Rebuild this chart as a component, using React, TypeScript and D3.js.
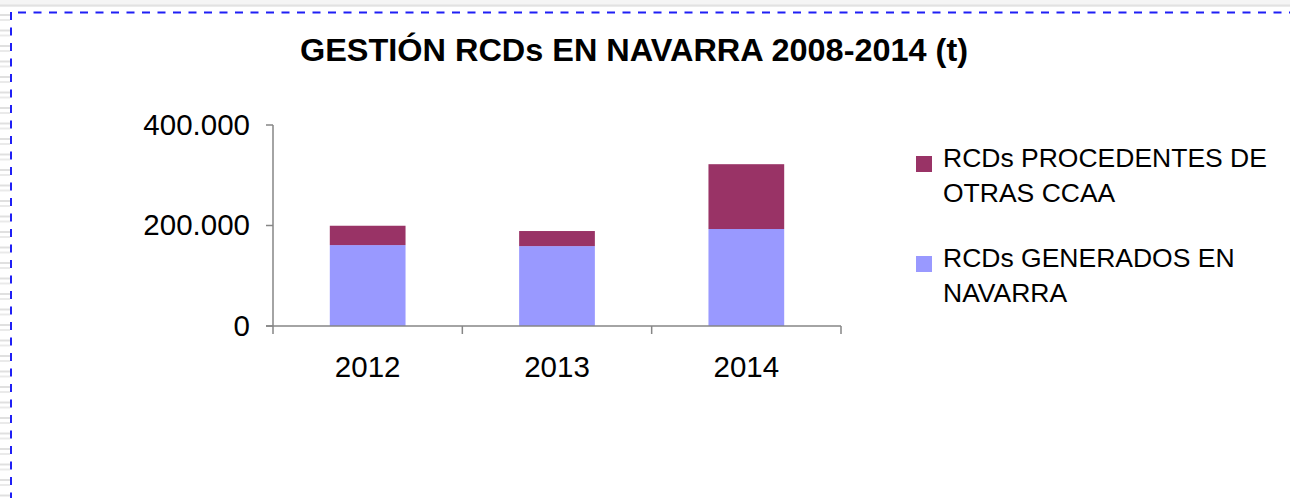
import React from "react";
import * as d3 from "d3";

// chart data (t)
const years = ["2012", "2013", "2014"];
const generadosNavarra = [161000, 159000, 193000];
const otrasCCAA = [38500, 30000, 129000];
const yTicks = [0, 200000, 400000];
const seriesNames = ["RCDs GENERADOS EN NAVARRA", "RCDs PROCEDENTES DE OTRAS CCAA"];
const legendLines = [
  ["RCDs PROCEDENTES DE", "OTRAS CCAA"],
  ["RCDs GENERADOS EN", "NAVARRA"],
];
const colors = ["#9999ff", "#993366"];
const title = "GESTIÓN RCDs EN NAVARRA 2008-2014 (t)";

const W = 1290;
const H = 498;
const plot = { left: 273, right: 841, top: 125, bottom: 326 };
const font = "'Liberation Sans', Arial, sans-serif";
const axisColor = "#868686";

const esFormat = d3.formatLocale({
  decimal: ",",
  thousands: ".",
  grouping: [3],
  currency: ["", " €"],
}).format(",d");

export default function App() {
  const x = d3.scaleBand<string>()
    .domain(years)
    .range([plot.left, plot.right])
    .paddingInner(0.6)
    .paddingOuter(0.3);
  const y = d3.scaleLinear().domain([0, 400000]).range([plot.bottom, plot.top]);

  const rows = years.map((yr, i) => ({ year: yr, gen: generadosNavarra[i], otras: otrasCCAA[i] }));
  const stacked = d3.stack<any>().keys(["gen", "otras"])(rows);

  // category boundaries for the x ticks
  const step = x.step();
  const boundaries = d3.range(years.length + 1).map(i => plot.left + i * step);

  // ruler marks on left edge + dashed frame
  const rulerYs = d3.range(14, H, 15.5);

  return (
    <svg width={W} height={H} style={{ position: "fixed", left: 0, top: 0, background: "#fff" }}>
      <rect x={0} y={0} width={W} height={7} fill="#f5f5f5" />
      <line x1={0} x2={W} y1={5.5} y2={5.5} stroke="#e2e2e2" strokeWidth={2} />
      {rulerYs.map((ry, i) => (
        <g key={i}>
          <line x1={0} x2={10} y1={ry + 1} y2={ry + 1} stroke="#e0e0e0" strokeWidth={2} />
          <line x1={0} x2={10} y1={ry + 6} y2={ry + 6} stroke="#eaeaea" strokeWidth={2} />
        </g>
      ))}
      <line x1={18} x2={W} y1={12.5} y2={12.5} stroke="#1f1ff5" strokeWidth={2} strokeDasharray="8 7.5" />
      <line x1={11} x2={11} y1={12} y2={H} stroke="#1f1ff5" strokeWidth={2} strokeDasharray="8 7.5" />

      <text x={634} y={61} textAnchor="middle" fontFamily={font} fontWeight="bold" fontSize={30.5}
        textLength={668} lengthAdjust="spacingAndGlyphs" fill="#000">{title}</text>

      {/* bars */}
      {stacked.map((s, si) => (
        <g key={s.key} fill={colors[si]}>
          {s.map((d, i) => (
            <rect key={i} x={x(years[i])} width={x.bandwidth()} y={y(d[1])} height={y(d[0]) - y(d[1])}>
              <title>{`${seriesNames[si]} ${years[i]}: ${esFormat(d[1] - d[0])}`}</title>
            </rect>
          ))}
        </g>
      ))}

      {/* y axis */}
      <line x1={plot.left} x2={plot.left} y1={y(400000)} y2={plot.bottom} stroke={axisColor} strokeWidth={1.5} />
      {yTicks.map(t => (
        <g key={t}>
          <line x1={plot.left - 7} x2={plot.left} y1={y(t)} y2={y(t)} stroke={axisColor} strokeWidth={1.5} />
          <text x={250} y={y(t) + 9.5} textAnchor="end" fontFamily={font} fontSize={29.5} fill="#000">
            {esFormat(t)}
          </text>
        </g>
      ))}

      {/* x axis */}
      <line x1={plot.left - 7} x2={plot.right} y1={plot.bottom} y2={plot.bottom} stroke={axisColor} strokeWidth={1.5} />
      {boundaries.map((bx, i) => (
        <line key={i} x1={bx} x2={bx} y1={plot.bottom} y2={plot.bottom + 8} stroke={axisColor} strokeWidth={1.5} />
      ))}
      {years.map(yr => (
        <text key={yr} x={x(yr)! + x.bandwidth() / 2} y={377} textAnchor="middle" fontFamily={font} fontSize={29.5} fill="#000">
          {yr}
        </text>
      ))}

      {/* legend */}
      {legendLines.map((lines, li) => {
        const top = 156 + li * 100;
        return (
          <g key={li}>
            <rect x={916} y={top} width={16} height={16} fill={colors[1 - li]} />
            {lines.map((ln, k) => (
              <text key={k} x={943} y={top + 11 + k * 35} fontFamily={font} fontSize={26.5} fill="#000">{ln}</text>
            ))}
          </g>
        );
      })}
    </svg>
  );
}
